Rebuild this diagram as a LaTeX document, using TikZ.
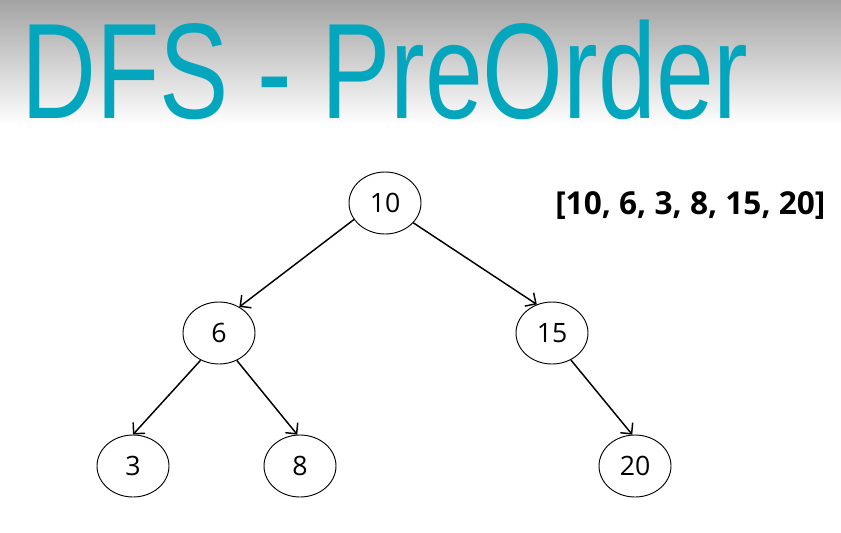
\documentclass[tikz,border=0pt]{standalone}
\usepackage{fontspec}
\setmainfont{Open Sans}
\newfontfamily\titlefont{Liberation Sans}
\usepackage{tikz}
\usetikzlibrary{positioning,shapes.geometric,arrows.meta}

\definecolor{titleteal}{RGB}{4,166,190}
\definecolor{topgray}{RGB}{163,163,163}

\tikzset{
  treenode/.style={ellipse, draw, line width=0.7pt, minimum width=54pt, minimum height=46.5pt, inner sep=0pt, font=\fontsize{20}{24}\selectfont},
  treeedge/.style={line width=1.1pt, -{Straight Barb[length=6pt,width=12pt,line width=1.1pt]}}
}

\begin{document}
\begin{tikzpicture}[x=0.75pt,y=0.75pt,yscale=-1,xscale=1]
\useasboundingbox (0,0) rectangle (841,532);

%Shape: Background
\fill [white] (0,0) rectangle (841,532);
\shade [top color=topgray, bottom color=white] (0,0) rectangle (841,125);

% Text Node
\node [anchor=base west, inner sep=0pt, xscale=0.764, text=titleteal, font=\titlefont\fontsize{102}{110}\selectfont] (title) at (21,118) {DFS - PreOrder};

%Shape: Ellipse
\node [treenode] (n10) at (385,203) {10};
\node [treenode] (n6) at (219,333) {6};
\node [treenode] (n15) at (552,333) {15};
\node [treenode] (n3) at (133,466) {3};
\node [treenode] (n8) at (300,466) {8};
\node [treenode] (n20) at (635,466) {20};

%Straight Lines
\draw [treeedge] (n10.208) -- (n6.52);
\draw [treeedge] (n10.325) -- (n15.118);
\draw [treeedge] (n6.236) -- (n3.90);
\draw [treeedge] (n6.303) -- (n8.95);
\draw [treeedge] (n15.305) -- (n20.95);

% Text Node
\node [anchor=base west, inner sep=0pt, font=\bfseries\fontsize{23.7}{27}\selectfont] (order) at (555,214) {[10, 6, 3, 8, 15, 20]};

\end{tikzpicture}
\end{document}
